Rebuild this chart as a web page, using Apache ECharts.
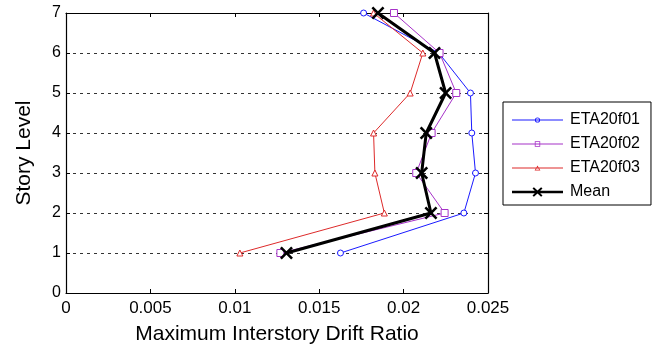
<!DOCTYPE html>
<html>
<head>
<meta charset="utf-8">
<script src="https://cdn.jsdelivr.net/npm/echarts@6/dist/echarts.min.js"></script>
<style>
  html, body { margin: 0; padding: 0; background: #fff; }
  #chart { width: 664px; height: 348px; }
</style>
</head>
<body>
<div id="chart"></div>
<script>
// Story levels (y) and peak interstory drift ratios per record (x)
const stories = [1, 2, 3, 4, 5, 6, 7];
const eta20f01 = [0.01626, 0.02357, 0.02426, 0.02404, 0.02396, 0.02209, 0.01763];
const eta20f02 = [0.01270, 0.02243, 0.02075, 0.02166, 0.02312, 0.02213, 0.01943];
const eta20f03 = [0.01030, 0.01886, 0.01830, 0.01822, 0.02039, 0.02114, 0.01822];
const meanDrift = [0.01306, 0.02162, 0.02107, 0.02134, 0.02249, 0.02183, 0.01848];
const xTicks = [0, 0.005, 0.01, 0.015, 0.02, 0.025];
const yTicks = [0, 1, 2, 3, 4, 5, 6, 7];

const FONT = 'Liberation Sans';
const pairs = (xs) => xs.map((x, i) => [x, stories[i]]);

// Thick "x" marker outline
const crossPath = 'path://M0,1.4L1.4,0L5,3.6L8.6,0L10,1.4L6.4,5L10,8.6L8.6,10L5,6.4L1.4,10L0,8.6L3.6,5Z';

// Legend glyphs, drawn in a 51 x 10 box: a line with a small marker in the middle
const BOX = 'M0,0L0.01,0L0,0.01ZM0,10L0.01,10L0,9.99Z';
const THIN = 'M0,4.5L51,4.5L51,5.5L0,5.5Z';
const iconCircle = 'path://' + BOX + THIN +
  'M28.1,5A2.6,2.6 0 1 1 22.9,5A2.6,2.6 0 1 1 28.1,5Z' +
  'M27.3,5A1.8,1.8 0 1 0 23.7,5A1.8,1.8 0 1 0 27.3,5Z';
const iconSquare = 'path://' + BOX + THIN +
  'M22.8,2.3L28.2,2.3L28.2,7.7L22.8,7.7Z' +
  'M23.6,3.1L23.6,6.9L27.4,6.9L27.4,3.1Z';
const iconTriangle = 'path://' + BOX + THIN +
  'M25.5,2.4L28.4,7.4L22.6,7.4Z' +
  'M25.5,4.1L23.9,6.7L27.1,6.7Z';
const iconMean = 'path://' + BOX + 'M0,3.8L51,3.8L51,6.2L0,6.2Z' +
  'M20.5,1.4L21.9,0.2L25.5,3.6L29.1,0.2L30.5,1.4L26.9,5L30.5,8.6L29.1,9.8L25.5,6.4L21.9,9.8L20.5,8.6L24.1,5Z';

const colors = { f01: '#1a1aff', f02: '#a632c8', f03: '#dd2a2a', mean: '#000' };

function lineSeries(name, data, color, symbol, size) {
  return {
    name: name,
    type: 'line',
    data: pairs(data),
    symbol: symbol,
    symbolSize: size,
    showAllSymbol: true,
    lineStyle: { color: color, width: 1 },
    itemStyle: { color: '#fff', borderColor: color, borderWidth: 1 },
    emphasis: { disabled: true },
    z: 3
  };
}

function legendItem(name, icon, color) {
  return { name: name, icon: icon, itemStyle: { color: color, borderWidth: 0 } };
}

// Top / right edges of the box, ticks pointing inward, no labels
const frameAxis = {
  axisLine: { show: true, onZero: false, lineStyle: { color: '#000', width: 1.2 } },
  axisTick: { show: true, inside: true, length: 4, lineStyle: { color: '#000' } },
  axisLabel: { show: false },
  splitLine: { show: false }
};

const chart = echarts.init(document.getElementById('chart'), null, { renderer: 'canvas' });
chart.setOption({
  animation: false,
  backgroundColor: '#fff',
  textStyle: { fontFamily: FONT },
  grid: { left: 66, right: 176, top: 13, bottom: 55, containLabel: false, outerBoundsMode: 'none' },
  xAxis: [
    {
      type: 'value', position: 'bottom',
      min: xTicks[0], max: xTicks[xTicks.length - 1], interval: 0.005,
      name: 'Maximum Interstory Drift Ratio', nameLocation: 'middle', nameGap: 31,
      nameTextStyle: { fontFamily: FONT, fontSize: 21, color: '#000' },
      axisLine: { show: true, onZero: false, lineStyle: { color: '#000', width: 1.2 } },
      axisTick: { show: true, inside: true, length: 4, lineStyle: { color: '#000' } },
      axisLabel: { fontFamily: FONT, fontSize: 17, color: '#000', margin: 7 },
      splitLine: { show: false }
    },
    Object.assign({ type: 'value', position: 'top', min: 0, max: 0.025, interval: 0.005 }, frameAxis)
  ],
  yAxis: [
    {
      type: 'value', position: 'left',
      min: yTicks[0], max: yTicks[yTicks.length - 1], interval: 1,
      name: 'Story Level', nameLocation: 'middle', nameGap: 31,
      nameTextStyle: { fontFamily: FONT, fontSize: 21, color: '#000' },
      axisLine: { show: true, onZero: false, lineStyle: { color: '#000', width: 1.2 } },
      axisTick: { show: true, inside: true, length: 4, lineStyle: { color: '#000' } },
      axisLabel: { fontFamily: FONT, fontSize: 16, color: '#000', margin: 5 },
      splitLine: { show: true, lineStyle: { color: '#333', type: [3, 4], width: 1 } }
    },
    Object.assign({ type: 'value', position: 'right', min: 0, max: 7, interval: 1 }, frameAxis)
  ],
  legend: {
    orient: 'vertical',
    left: 503, top: 102,
    padding: [10, 11, 5, 9],
    itemWidth: 51, itemHeight: 10, itemGap: 8,
    backgroundColor: '#fff',
    borderColor: '#000', borderWidth: 1,
    textStyle: { fontFamily: FONT, fontSize: 16, color: '#000', padding: [0, 0, 0, 2] },
    data: [
      legendItem('ETA20f01', iconCircle, colors.f01),
      legendItem('ETA20f02', iconSquare, colors.f02),
      legendItem('ETA20f03', iconTriangle, colors.f03),
      legendItem('Mean', iconMean, colors.mean)
    ]
  },
  series: [
    lineSeries('ETA20f01', eta20f01, colors.f01, 'circle', 6),
    lineSeries('ETA20f02', eta20f02, colors.f02, 'rect', 7),
    lineSeries('ETA20f03', eta20f03, colors.f03, 'triangle', 6),
    {
      name: 'Mean',
      type: 'line',
      data: pairs(meanDrift),
      symbol: crossPath,
      symbolSize: 13,
      lineStyle: { color: colors.mean, width: 3 },
      itemStyle: { color: colors.mean },
      emphasis: { disabled: true },
      z: 4
    }
  ]
});
</script>
</body>
</html>
